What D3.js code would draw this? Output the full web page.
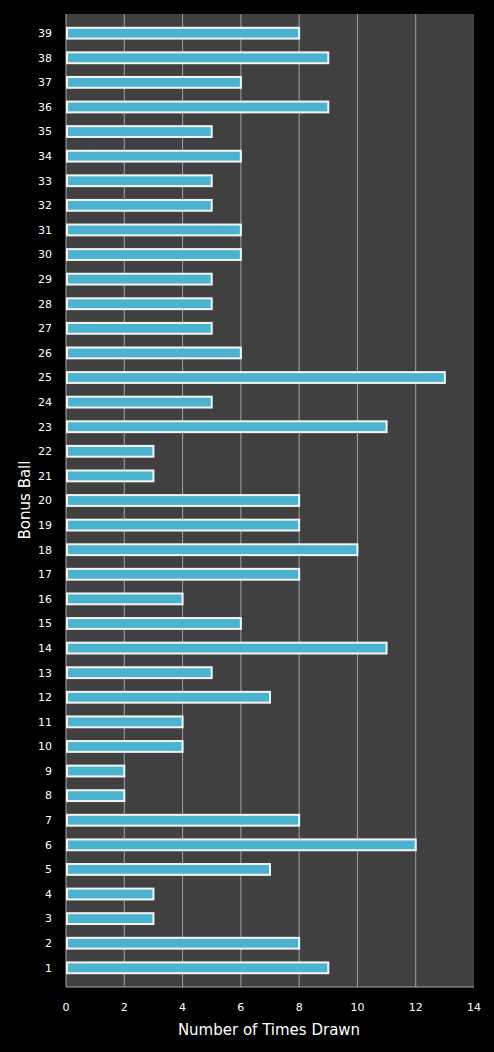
<!DOCTYPE html>
<html><head><meta charset="utf-8">
<script src="https://cdn.jsdelivr.net/npm/d3@7"></script>
<style>body{margin:0;background:#000}</style></head>
<body><svg id="c" width="494" height="1052"></svg>
<script>
const balls = d3.range(1,40).map(String);
const counts = [9,8,3,3,7,12,8,2,2,4,4,7,5,11,6,4,8,10,8,8,3,3,11,5,13,6,5,5,5,6,6,5,5,6,5,9,6,9,8];
const xTicks = [0,2,4,6,8,10,12,14];

const svg = d3.select("#c");
const L=66,R=474,T=14,B=987;
svg.append("rect").attr("width",494).attr("height",1052).attr("fill","#000");
svg.append("rect").attr("x",L).attr("y",T).attr("width",R-L).attr("height",B-T).attr("fill","#404040");
const x = d3.scaleLinear().domain([0,14]).range([L,R]);
const y = d3.scaleBand().domain(balls.slice().reverse()).range([T,B]).padding(0.56);
svg.append("g").selectAll("line").data(xTicks.slice(1,-1)).join("line")
  .attr("x1",d=>x(d)).attr("x2",d=>x(d)).attr("y1",T).attr("y2",B)
  .attr("stroke","#a0a0a0").attr("stroke-width",1);
svg.append("line").attr("x1",L).attr("x2",L).attr("y1",T).attr("y2",B).attr("stroke","#aaa");
svg.append("line").attr("x1",L).attr("x2",R).attr("y1",B).attr("y2",B).attr("stroke","#aaa");
svg.append("g").selectAll("rect").data(balls).join("rect")
  .attr("x",x(0)+1).attr("y",d=>y(d)).attr("height",y.bandwidth())
  .attr("width",(d,i)=>x(counts[i])-x(0)-1)
  .attr("fill","#4bb3d0").attr("stroke","#f4f4f4").attr("stroke-width",2);
svg.append("g").selectAll("text").data(balls).join("text")
  .attr("x",52).attr("y",d=>y(d)+y.bandwidth()/2).attr("dy","0.35em")
  .attr("text-anchor","end").attr("fill","#fff").attr("font-family","DejaVu Sans")
  .attr("font-size",11).text(d=>d);
svg.append("g").selectAll("text").data(xTicks).join("text")
  .attr("x",d=>x(d)).attr("y",1011).attr("text-anchor","middle").attr("fill","#fff")
  .attr("font-family","DejaVu Sans").attr("font-size",11).text(d=>d);
svg.append("text").attr("x",269).attr("y",1035).attr("text-anchor","middle").attr("fill","#fff")
  .attr("font-family","DejaVu Sans").attr("font-size",15).text("Number of Times Drawn");
svg.append("text").attr("transform","translate(30,500) rotate(-90)").attr("text-anchor","middle")
  .attr("fill","#fff").attr("font-family","DejaVu Sans").attr("font-size",15).text("Bonus Ball");
</script></body></html>
